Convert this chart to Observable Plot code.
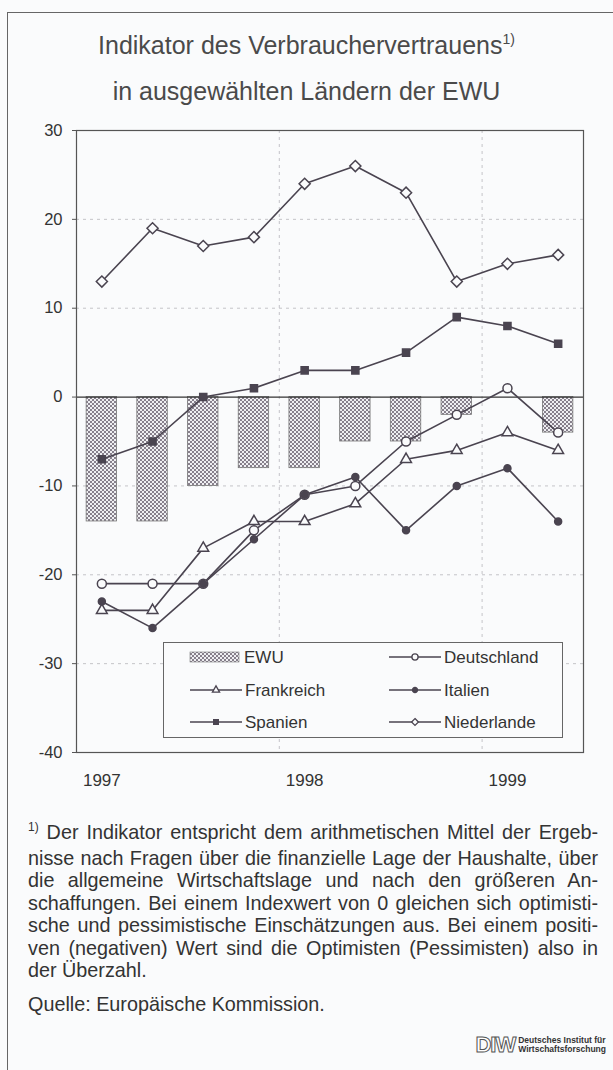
<!DOCTYPE html>
<html><head><meta charset="utf-8">
<script src="https://cdn.jsdelivr.net/npm/d3@7"></script>
<script src="https://cdn.jsdelivr.net/npm/@observablehq/plot@0.6"></script>
<style>
body{margin:0;background:#fafbfc;font-family:"Liberation Sans",Arial,sans-serif;color:#333;}
#page{position:relative;width:613px;height:1070px;overflow:hidden;}
#frame{position:absolute;left:7px;top:12px;width:620px;height:1070px;border-top:1.5px solid #666;border-left:1.5px solid #666;}
#title{position:absolute;left:0;width:613px;top:24px;text-align:center;font-size:25px;line-height:42px;color:#4a4a4a;}
#title sup{font-size:14px;vertical-align:0;position:relative;top:-10px;}
#chart{position:absolute;left:0;top:115px;}
#legend{position:absolute;left:163px;top:642px;width:400px;height:96px;border:1px solid #666;background:#fafbfc;box-sizing:border-box;}
#note{position:absolute;left:28px;top:821px;width:570px;font-size:19.8px;line-height:22.5px;color:#333;}
#note .l{text-align:justify;text-align-last:justify;white-space:nowrap;}
#note .last{text-align:left;text-align-last:left;}
#note sup{font-size:12px;vertical-align:0;position:relative;top:-8px;}
#src{margin-top:11px;}
#logo{position:absolute;right:7px;top:1034px;display:flex;align-items:center;}
#logo .big{font-family:"Liberation Sans",sans-serif;font-size:22px;font-weight:bold;color:#fff;-webkit-text-stroke:1px #555;letter-spacing:-1px;line-height:22px;}
#logo .small{font-family:"Liberation Sans Narrow","Liberation Sans",sans-serif;font-size:8.5px;font-weight:bold;line-height:9.5px;color:#333;margin-left:3px;}
</style>
</head><body>
<div id="page">
<div id="frame"></div>
<div id="title">Indikator des Verbrauchervertrauens<sup>1)</sup><br>in ausgewählten Ländern der EWU</div>
<div id="chart"></div>
<div id="legend"></div>
<div id="note">
<div class="l"><sup>1)</sup> Der Indikator entspricht dem arithmetischen Mittel der Ergeb-</div>
<div class="l">nisse nach Fragen über die finanzielle Lage der Haushalte, über</div>
<div class="l">die allgemeine Wirtschaftslage und nach den größeren An-</div>
<div class="l">schaffungen. Bei einem Indexwert von 0 gleichen sich optimisti-</div>
<div class="l">sche und pessimistische Einschätzungen aus. Bei einem positi-</div>
<div class="l">ven (negativen) Wert sind die Optimisten (Pessimisten) also in</div>
<div class="l last">der Überzahl.</div>
<div id="src">Quelle: Europäische Kommission.</div>
</div>
<div id="logo"><span class="big">DIW</span><span class="small">Deutsches Institut für<br>Wirtschaftsforschung</span></div>
</div>
<script>
// ---- data ----
const quarters = ["I/97","II/97","III/97","IV/97","I/98","II/98","III/98","IV/98","I/99","II/99"];
const ewu         = [-14,-14,-10,-8,-8,-5,-5,-2,0,-4];
const deutschland = [-21,-21,-21,-15,-11,-10,-5,-2,1,-4];
const frankreich  = [-24,-24,-17,-14,-14,-12,-7,-6,-4,-6];
const italien     = [-23,-26,-21,-16,-11,-9,-15,-10,-8,-14];
const spanien     = [-7,-5,0,1,3,3,5,9,8,6];
const niederlande = [13,19,17,18,24,26,23,13,15,16];
const yearLabels  = ["1997","1998","1999"];
const yTicks      = [-40,-30,-20,-10,0,10,20,30];
const seriesNames = ["EWU","Deutschland","Frankreich","Italien","Spanien","Niederlande"];

const ink = "#4a4450";
const lineSeries = [
  {name:"Deutschland", values:deutschland, symbol:"circle", fill:"#fafbfc", r:4.5},
  {name:"Frankreich",  values:frankreich,  symbol:"triangle", fill:"#fafbfc", r:4},
  {name:"Italien",     values:italien,     symbol:"circle", fill:ink, r:3.5},
  {name:"Spanien",     values:spanien,     symbol:"square", fill:ink, r:4},
  {name:"Niederlande", values:niederlande, symbol:"diamond2", fill:"#fafbfc", r:5}
];

const ewuRows = quarters.map((q,i)=>({i, q, v:ewu[i]})).filter(d=>d.v!==0);
const yearStarts = quarters.map((q,i)=>i).filter(i=>quarters[i].startsWith("I/"));
const boundaries = yearStarts.filter(i=>i>0).map(i=>i-0.5);

const marks = [
  Plot.gridY(yTicks.filter(v=>v!==0 && v!==30 && v!==-40), {stroke:"#c4c4c8", strokeOpacity:1, strokeDasharray:"3,4"}),
  Plot.ruleX(boundaries, {stroke:"#c4c4c8", strokeDasharray:"3,4"}),
  Plot.rectY(ewuRows, {x1:d=>d.i-0.3, x2:d=>d.i+0.3, y1:0, y2:"v", fill:"url(#stipple)", stroke:"#777", strokeWidth:0.8}),
  Plot.ruleY([0], {stroke:"#333", strokeWidth:1.2}),
  Plot.frame({stroke:"#555", strokeWidth:1.2}),
  Plot.axisY(yTicks, {label:null, tickSize:4, tickPadding:10, fontSize:16.5, stroke:"#555", tickFormat:d=>String(d)}),
  Plot.axisX(yearStarts, {label:null, tickSize:0, tickPadding:21, fontSize:17, tickFormat:d=>yearLabels[yearStarts.indexOf(d)]})
];
for (const s of lineSeries) {
  const rows = s.values.map((v,i)=>({i, v}));
  marks.push(Plot.line(rows, {x:"i", y:"v", stroke:ink, strokeWidth:1.6}));
}
for (const s of lineSeries) {
  const rows = s.values.map((v,i)=>({i, v}));
  marks.push(Plot.dot(rows, {x:"i", y:"v", symbol:()=>s.symbol, r:s.r, fill:s.fill, stroke:ink, strokeWidth:1.5}));
}

const chart = Plot.plot({
  width:613, height:677,
  marginLeft:76, marginRight:30, marginTop:15, marginBottom:40,
  x:{domain:[-0.5, 9.5], axis:null},
  y:{domain:[-40, 30], axis:null},
  style:{background:"transparent", color:"#333", fontFamily:"Liberation Sans, Arial, sans-serif"},
  marks
});
const defs = d3.select(chart).insert("defs", ":first-child");
const pat = defs.append("pattern").attr("id","stipple").attr("width",4).attr("height",4).attr("patternUnits","userSpaceOnUse");
pat.append("rect").attr("width",4).attr("height",4).attr("fill","#efeff2");
pat.append("circle").attr("cx",1).attr("cy",1).attr("r",0.95).attr("fill","#5a5060");
pat.append("circle").attr("cx",3).attr("cy",3).attr("r",0.95).attr("fill","#5a5060");
document.getElementById("chart").appendChild(chart);

// ---- legend ----
const lg = d3.select("#legend").append("svg").attr("width",398).attr("height",94)
  .style("font-family","Liberation Sans, Arial, sans-serif").style("font-size","17px");
const legendItems = [
  {name:seriesNames[0], col:0, row:0, type:"bar"},
  {name:seriesNames[1], col:1, row:0, symbol:d3.symbolCircle, size:30, fill:"#fafbfc"},
  {name:seriesNames[2], col:0, row:1, symbol:d3.symbolTriangle, size:22, fill:"#fafbfc"},
  {name:seriesNames[3], col:1, row:1, symbol:d3.symbolCircle, size:20, fill:ink},
  {name:seriesNames[4], col:0, row:2, symbol:d3.symbolSquare, size:22, fill:ink},
  {name:seriesNames[5], col:1, row:2, symbol:d3.symbolDiamond2, size:30, fill:"#fafbfc"}
];
const colX = [26, 225], rowY = [14, 47, 79];
for (const it of legendItems) {
  const x0 = colX[it.col], y0 = rowY[it.row];
  if (it.type === "bar") {
    lg.append("rect").attr("x",x0).attr("y",y0-5).attr("width",49).attr("height",10).attr("fill","url(#stipple)").attr("stroke","#777").attr("stroke-width",0.6);
  } else {
    lg.append("line").attr("x1",x0).attr("x2",x0+52).attr("y1",y0).attr("y2",y0).attr("stroke",ink).attr("stroke-width",1.5);
    lg.append("path").attr("d",d3.symbol(it.symbol, it.size)()).attr("transform",`translate(${x0+26},${y0})`)
      .attr("fill",it.fill).attr("stroke",ink).attr("stroke-width",1.3);
  }
  lg.append("text").attr("x", x0 + (it.type==="bar"?54:55)).attr("y", y0).attr("dy","0.35em").attr("fill","#333").text(it.name);
}
</script>
</body></html>
